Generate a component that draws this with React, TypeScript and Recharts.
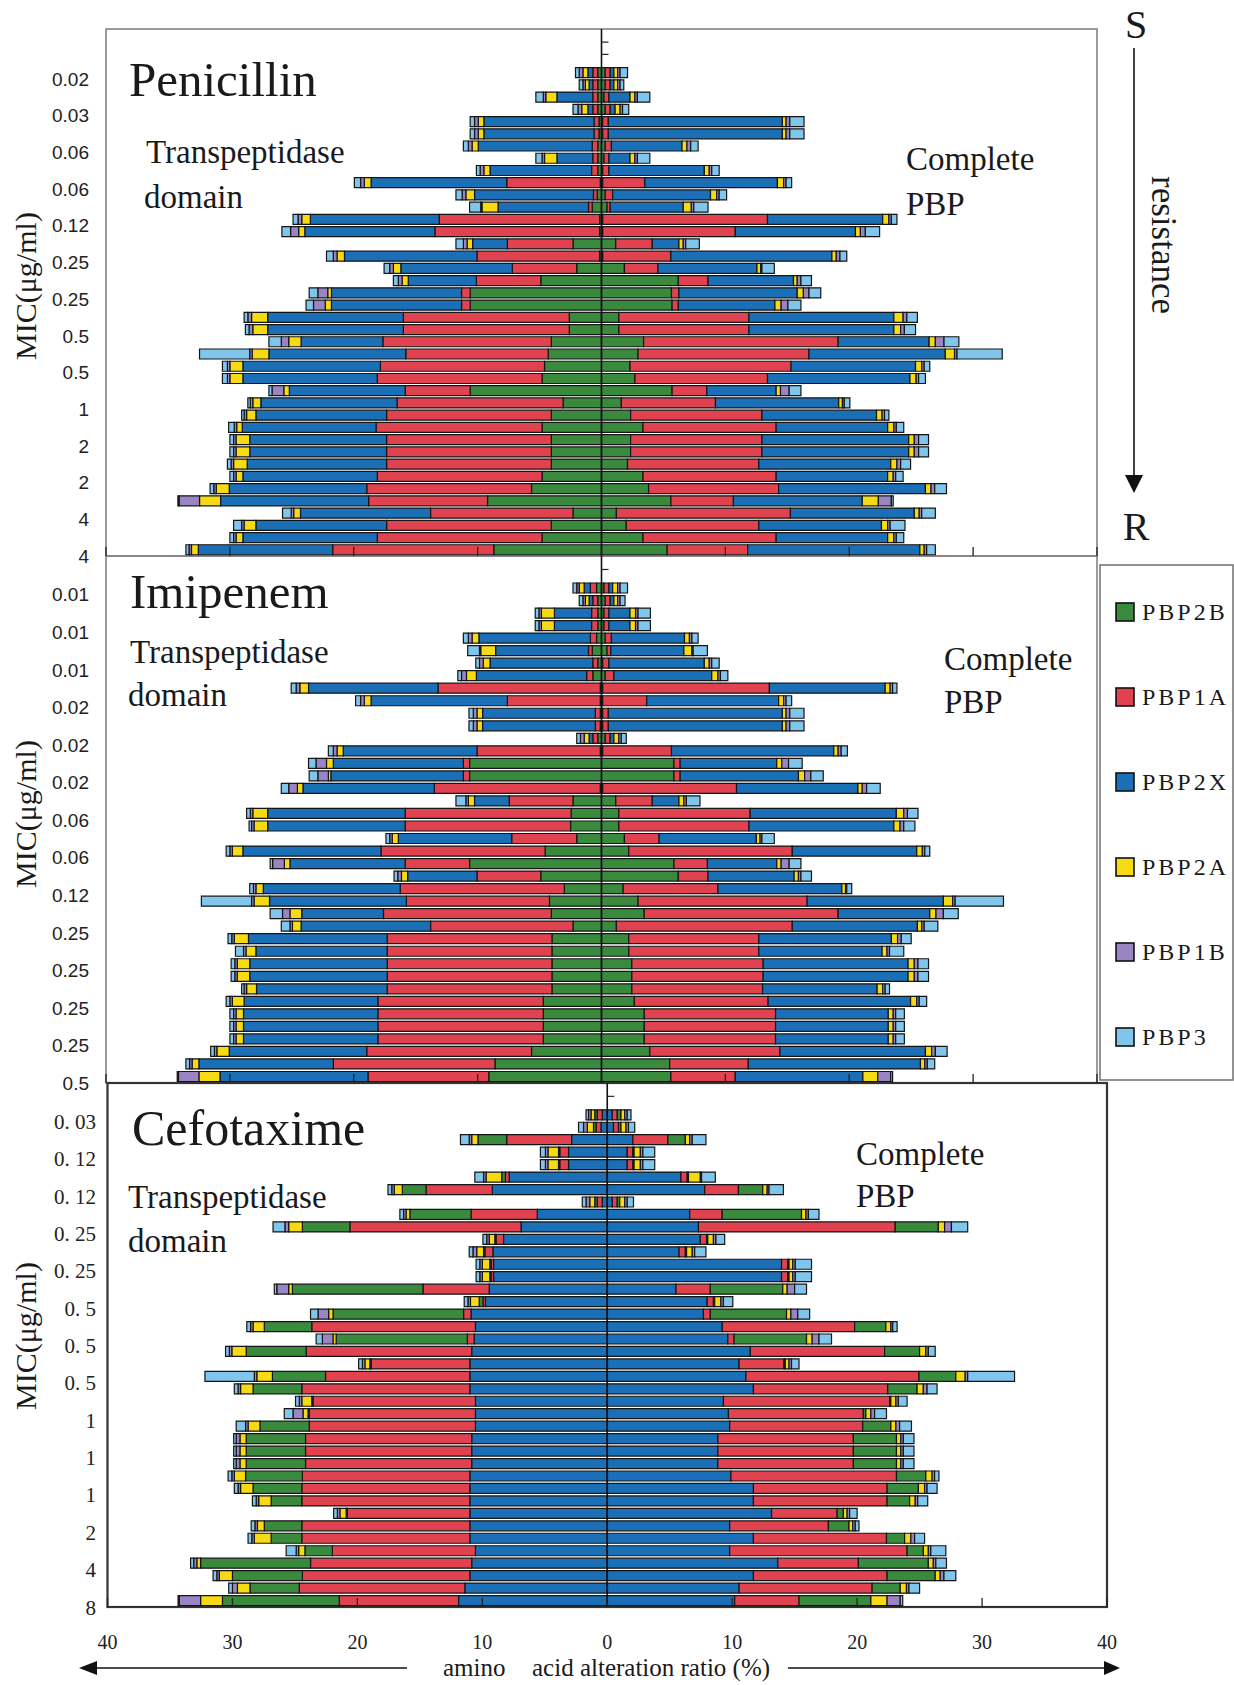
import React from 'react';
import { BarChart, Bar, XAxis, YAxis, ReferenceLine } from 'recharts';

// ---------- labels ----------
const proteins = ['PBP2B', 'PBP1A', 'PBP2X', 'PBP2A', 'PBP1B', 'PBP3'];
const penMIC = ['0.02', '0.03', '0.06', '0.06', '0.12', '0.25', '0.25', '0.5', '0.5', '1', '2', '2', '4', '4'];
const imiMIC = ['0.01', '0.01', '0.01', '0.02', '0.02', '0.02', '0.06', '0.06', '0.12', '0.25', '0.25', '0.25', '0.25', '0.5'];
const cefMIC = ['0. 03', '0. 12', '0. 12', '0. 25', '0. 25', '0. 5', '0. 5', '0. 5', '1', '1', '1', '2', '4', '8'];
const xTicks = [-40, -30, -20, -10, 0, 10, 20, 30, 40];

// ---------- Penicillin: transpeptidase domain (left) ----------
const penTP_2B = [0.3, 0.3, 0.3, 0.3, 0.2, 0.2, 0.3, 0.3, 0.3, 0.1,
  0.35, 0.75, 0.15, 0.15, 2.3, 0.15, 2.0, 4.9, 10.6, 10.6,
  2.6, 2.6, 4.05, 4.3, 4.6, 4.8, 10.6, 3.1, 4.05, 4.8,
  4.05, 4.05, 4.05, 4.8, 5.65, 9.2, 2.3, 4.05, 4.8, 8.7];
const penTP_1A = [0.4, 0.4, 0.4, 0.4, 0.4, 0.4, 0.45, 0.4, 0.5, 7.55,
  0.3, 0.3, 12.95, 13.3, 5.3, 9.9, 5.2, 5.2, 0.7, 0.7,
  13.4, 13.4, 13.6, 11.5, 13.25, 13.3, 5.25, 13.4, 13.3, 13.4,
  13.3, 13.3, 13.3, 13.3, 13.3, 9.6, 11.5, 13.3, 13.3, 13.0];
const penTP_2X = [0.4, 0.3, 2.9, 0.4, 8.9, 8.9, 9.2, 2.9, 8.2, 10.95,
  9.6, 7.3, 10.4, 10.5, 2.8, 10.7, 9.0, 5.5, 10.5, 10.5,
  10.95, 10.95, 6.6, 11.05, 11.1, 10.85, 9.35, 11.0, 10.55, 10.8,
  11.05, 11.05, 11.25, 10.85, 11.1, 11.95, 10.5, 10.55, 10.85, 10.85];
const penTP_2A = [0.4, 0.3, 0.9, 0.5, 0.45, 0.45, 0.5, 1.0, 0.5, 0.55,
  0.7, 1.3, 0.7, 0.5, 0.45, 0.6, 0.6, 0.5, 0.3, 0.5,
  1.3, 1.2, 1.0, 1.35, 1.05, 1.05, 0.45, 0.65, 0.75, 0.45,
  1.1, 1.1, 1.1, 0.55, 1.05, 1.7, 0.55, 0.95, 0.55, 0.55];
const penTP_1B = [0.3, 0.2, 0.2, 0.3, 0.3, 0.3, 0.3, 0.2, 0.3, 0.3,
  0.3, 0.1, 0.3, 0.65, 0.3, 0.3, 0.3, 0.3, 0.8, 0.95,
  0.3, 0.3, 0.6, 0.2, 0.2, 0.2, 0.95, 0.2, 0.2, 0.2,
  0.2, 0.2, 0.2, 0.2, 0.2, 1.65, 0.2, 0.2, 0.2, 0.2];
const penTP_3 = [0.3, 0.3, 0.6, 0.4, 0.35, 0.35, 0.4, 0.5, 0.3, 0.5,
  0.5, 0.9, 0.4, 0.7, 0.6, 0.55, 0.45, 0.4, 0.7, 0.6,
  0.3, 0.3, 1.0, 4.05, 0.4, 0.4, 0.25, 0.2, 0.2, 0.45,
  0.3, 0.3, 0.3, 0.3, 0.3, 0.1, 0.7, 0.65, 0.3, 0.25];

// ---------- Penicillin: complete PBP (right) ----------
const penCP_2B = [0.3, 0.3, 0.2, 0.3, 0.1, 0.1, 0.3, 0.2, 0.1, 0.1,
  0.3, 0.45, 0.1, 0.1, 1.15, 0.1, 1.85, 6.2, 5.65, 5.7,
  1.4, 1.4, 3.4, 2.95, 2.3, 2.7, 5.7, 1.6, 2.35, 3.35,
  2.35, 2.35, 2.1, 3.35, 3.8, 5.6, 1.2, 2.0, 3.35, 5.3];
const penCP_1A = [0.4, 0.4, 0.4, 0.4, 0.45, 0.45, 0.5, 0.4, 0.5, 3.4,
  0.6, 0.25, 13.3, 10.7, 2.95, 5.5, 2.7, 2.4, 0.6, 0.5,
  10.5, 10.5, 15.7, 13.8, 13.0, 10.7, 2.8, 7.6, 10.6, 10.75,
  10.6, 10.6, 10.6, 10.75, 10.5, 5.05, 14.05, 10.7, 10.75, 6.5];
const penCP_2X = [0.3, 0.3, 1.7, 0.4, 14.05, 14.05, 5.7, 1.7, 7.7, 10.7,
  7.9, 5.9, 9.3, 9.7, 2.15, 13.0, 8.0, 6.9, 9.55, 7.8,
  11.7, 11.7, 7.35, 11.0, 10.05, 11.5, 5.6, 9.95, 9.25, 9.0,
  11.85, 11.85, 10.65, 9.0, 11.85, 10.4, 10.0, 9.9, 9.0, 13.9];
const penCP_2A = [0.3, 0.3, 0.4, 0.4, 0.3, 0.3, 0.4, 0.4, 0.4, 0.5,
  0.5, 0.65, 0.5, 0.4, 0.35, 0.35, 0.3, 0.3, 0.5, 0.5,
  0.75, 0.55, 0.5, 0.75, 0.5, 0.5, 0.35, 0.3, 0.45, 0.5,
  0.45, 0.45, 0.5, 0.45, 0.45, 1.3, 0.4, 0.5, 0.5, 0.35];
const penCP_1B = [0.2, 0.2, 0.2, 0.2, 0.3, 0.3, 0.3, 0.2, 0.2, 0.2,
  0.2, 0.2, 0.2, 0.4, 0.2, 0.3, 0.1, 0.3, 0.45, 0.55,
  0.3, 0.3, 0.7, 0.2, 0.2, 0.2, 0.7, 0.15, 0.2, 0.2,
  0.35, 0.35, 0.3, 0.2, 0.3, 1.05, 0.2, 0.2, 0.2, 0.2];
const penCP_3 = [0.6, 0.3, 1.0, 0.5, 1.15, 1.15, 0.6, 1.0, 0.6, 0.45,
  0.6, 1.15, 0.45, 1.15, 1.1, 0.55, 1.0, 0.85, 0.95, 1.05,
  0.85, 0.9, 1.2, 3.65, 0.45, 0.55, 0.95, 0.45, 0.35, 0.6,
  0.8, 0.8, 0.8, 0.6, 0.95, 0.15, 1.1, 1.2, 0.6, 0.7];

// ---------- Imipenem: transpeptidase domain (left) ----------
const imiTP_2B = [0.4, 0.3, 0.3, 0.3, 0.4, 0.75, 0.3, 0.7, 0.1, 0.1,
  0.1, 0.1, 0.3, 0.1, 10.65, 10.65, 0.1, 2.3, 2.45, 2.5,
  2.0, 4.55, 10.65, 4.9, 3.0, 4.2, 4.05, 2.3, 4.0, 4.0,
  4.0, 4.0, 4.0, 4.7, 4.7, 4.7, 4.7, 5.65, 8.6, 9.1];
const imiTP_1A = [0.5, 0.4, 0.5, 0.5, 0.5, 0.3, 0.4, 0.5, 13.1, 7.5,
  0.4, 0.4, 0.4, 9.95, 0.5, 0.5, 13.4, 5.15, 13.4, 13.35,
  5.25, 13.25, 5.2, 5.15, 13.25, 11.55, 13.55, 11.5, 13.3, 13.3,
  13.3, 13.3, 13.3, 13.35, 13.35, 13.35, 13.35, 13.3, 13.05, 9.75];
const imiTP_2X = [0.5, 0.3, 3.0, 3.0, 9.0, 7.5, 8.3, 8.9, 10.45, 11.0,
  9.1, 9.1, 0.3, 10.8, 10.5, 10.7, 10.6, 2.8, 11.1, 11.1,
  9.15, 11.15, 9.3, 5.6, 11.05, 11.05, 6.6, 10.45, 11.2, 10.6,
  11.1, 11.1, 10.55, 10.8, 10.85, 10.85, 10.85, 11.1, 10.85, 11.95];
const imiTP_2A = [0.4, 0.3, 1.05, 1.05, 0.55, 1.2, 0.55, 0.8, 0.7, 0.55,
  0.45, 0.45, 0.4, 0.5, 0.55, 0.2, 0.45, 0.5, 1.2, 1.1,
  0.5, 0.85, 0.45, 0.5, 0.6, 1.25, 0.95, 0.7, 1.15, 0.8,
  1.0, 1.0, 0.8, 0.95, 0.6, 0.6, 0.6, 1.0, 0.55, 1.7];
const imiTP_1B = [0.2, 0.2, 0.2, 0.2, 0.3, 0.1, 0.3, 0.4, 0.3, 0.3,
  0.3, 0.3, 0.3, 0.3, 0.85, 0.85, 0.7, 0.2, 0.2, 0.2,
  0.2, 0.2, 0.95, 0.3, 0.2, 0.2, 0.6, 0.2, 0.2, 0.2,
  0.2, 0.2, 0.2, 0.2, 0.2, 0.2, 0.2, 0.2, 0.2, 1.65];
const imiTP_3 = [0.3, 0.3, 0.3, 0.3, 0.4, 0.95, 0.3, 0.3, 0.4, 0.4,
  0.35, 0.35, 0.3, 0.4, 0.6, 0.7, 0.6, 0.8, 0.3, 0.2,
  0.3, 0.3, 0.2, 0.3, 0.3, 4.05, 1.0, 0.7, 0.3, 0.65,
  0.3, 0.3, 0.2, 0.3, 0.3, 0.3, 0.3, 0.3, 0.3, 0.1];

// ---------- Imipenem: complete PBP (right) ----------
const imiCP_2B = [0.2, 0.3, 0.2, 0.2, 0.3, 0.45, 0.1, 0.3, 0.1, 0.1,
  0.1, 0.1, 0.3, 0.1, 5.85, 5.85, 0.1, 1.15, 1.4, 1.4,
  1.85, 2.2, 5.85, 6.2, 1.75, 2.95, 3.45, 1.2, 2.2, 2.2,
  2.45, 2.45, 2.45, 2.65, 3.45, 3.45, 3.45, 3.9, 5.5, 5.6];
const imiCP_1A = [0.4, 0.4, 0.4, 0.4, 0.5, 0.3, 0.5, 0.7, 13.45, 3.55,
  0.45, 0.45, 0.4, 5.55, 0.5, 0.5, 10.8, 2.95, 10.6, 10.5,
  2.8, 13.2, 2.7, 2.4, 7.65, 13.65, 15.65, 14.2, 10.5, 10.5,
  10.6, 10.6, 10.55, 10.8, 10.6, 10.6, 10.6, 10.5, 6.35, 5.2];
const imiCP_2X = [0.3, 0.3, 1.7, 1.7, 5.9, 5.9, 7.7, 7.9, 9.35, 10.65,
  14.05, 14.05, 0.3, 13.1, 7.8, 9.55, 9.8, 2.15, 11.8, 11.7,
  7.85, 10.05, 5.6, 6.95, 10.0, 11.0, 7.4, 10.1, 10.7, 9.95,
  11.7, 11.7, 9.25, 11.5, 9.1, 9.1, 9.1, 11.75, 13.9, 10.3];
const imiCP_2A = [0.4, 0.3, 0.45, 0.45, 0.4, 0.65, 0.4, 0.5, 0.4, 0.4,
  0.3, 0.3, 0.4, 0.35, 0.4, 0.5, 0.35, 0.4, 0.6, 0.5,
  0.3, 0.45, 0.35, 0.35, 0.3, 0.75, 0.5, 0.35, 0.5, 0.4,
  0.5, 0.5, 0.45, 0.5, 0.4, 0.4, 0.4, 0.5, 0.35, 1.2];
const imiCP_1B = [0.2, 0.2, 0.2, 0.2, 0.2, 0.1, 0.2, 0.2, 0.2, 0.2,
  0.3, 0.3, 0.2, 0.25, 0.55, 0.5, 0.35, 0.2, 0.3, 0.3,
  0.15, 0.2, 0.65, 0.2, 0.1, 0.2, 0.6, 0.2, 0.3, 0.2,
  0.3, 0.3, 0.2, 0.2, 0.2, 0.2, 0.2, 0.3, 0.2, 1.05];
const imiCP_3 = [0.6, 0.4, 1.0, 1.0, 0.5, 1.15, 0.6, 0.6, 0.35, 0.45,
  1.15, 1.15, 0.4, 0.5, 1.1, 1.0, 1.1, 1.1, 0.85, 0.9,
  1.0, 0.4, 0.95, 0.85, 0.4, 3.9, 1.2, 1.1, 0.8, 1.15,
  0.85, 0.85, 0.35, 0.6, 0.7, 0.7, 0.7, 0.95, 0.6, 0.15];

// ---------- Cefotaxime: transpeptidase domain (left) ----------
const cefTP_2X = [0.4, 0.5, 2.85, 3.1, 3.1, 7.85, 9.2, 0.4, 5.6, 6.9,
  8.3, 9.15, 9.1, 9.1, 9.45, 9.75, 10.9, 10.55, 10.65, 10.85,
  11.0, 11.0, 11.0, 10.55, 10.55, 10.55, 10.85, 10.85, 10.85, 11.0,
  11.0, 11.0, 11.0, 11.0, 11.0, 10.55, 10.85, 11.0, 11.4, 11.9];
const cefTP_1A = [0.4, 0.4, 5.2, 0.7, 0.7, 0.3, 5.3, 0.4, 5.3, 13.7,
  0.6, 0.65, 0.2, 0.2, 5.3, 0.2, 0.6, 13.1, 0.55, 13.25,
  7.9, 11.55, 13.45, 13.0, 13.3, 13.3, 13.3, 13.3, 13.3, 13.4,
  13.45, 13.45, 9.8, 13.45, 13.45, 11.45, 12.9, 13.4, 13.25, 9.55];
const cefTP_2B = [0.2, 0.2, 2.3, 0.1, 0.1, 0.3, 1.9, 0.2, 4.9, 3.8,
  0.1, 0.1, 0.1, 0.1, 10.45, 0.3, 10.45, 3.8, 10.5, 4.8,
  0.1, 4.25, 3.9, 0.1, 0.1, 3.95, 4.75, 4.75, 4.75, 4.55,
  3.9, 2.45, 0.1, 3.0, 2.45, 2.2, 8.8, 5.6, 3.95, 9.35];
const cefTP_2A = [0.3, 0.5, 0.5, 0.85, 0.85, 1.25, 0.65, 0.4, 0.3, 1.1,
  0.45, 0.55, 0.6, 0.6, 0.3, 0.7, 0.35, 0.9, 0.25, 1.15,
  0.4, 1.25, 1.0, 0.8, 0.4, 0.95, 0.5, 0.5, 0.5, 0.9,
  1.0, 1.0, 0.5, 0.55, 1.35, 0.5, 0.3, 1.05, 1.0, 1.75];
const cefTP_1B = [0.2, 0.3, 0.2, 0.2, 0.2, 0.2, 0.2, 0.3, 0.2, 0.3,
  0.2, 0.3, 0.2, 0.2, 0.95, 0.2, 0.85, 0.2, 0.85, 0.2,
  0.2, 0.2, 0.2, 0.2, 0.8, 0.2, 0.3, 0.3, 0.3, 0.2,
  0.2, 0.2, 0.2, 0.2, 0.2, 0.2, 0.25, 0.2, 0.4, 1.7];
const cefTP_3 = [0.2, 0.4, 0.7, 0.4, 0.4, 0.7, 0.3, 0.3, 0.3, 0.95,
  0.3, 0.3, 0.3, 0.3, 0.2, 0.3, 0.6, 0.3, 0.5, 0.3,
  0.3, 3.95, 0.3, 0.3, 0.7, 0.75, 0.2, 0.2, 0.2, 0.3,
  0.3, 0.3, 0.3, 0.3, 0.3, 0.8, 0.25, 0.3, 0.3, 0.1];

// ---------- Cefotaxime: complete PBP (right) ----------
const cefCP_2X = [0.4, 0.5, 2.05, 1.6, 1.6, 5.9, 7.8, 0.4, 6.6, 7.3,
  7.45, 5.75, 13.95, 13.95, 5.5, 8.0, 7.7, 9.2, 9.65, 11.45,
  10.55, 11.1, 11.7, 9.3, 9.7, 9.8, 8.85, 8.85, 8.85, 9.9,
  11.7, 11.7, 13.15, 9.8, 11.7, 9.8, 13.65, 11.7, 10.55, 10.2];
const cefCP_1A = [0.4, 0.4, 2.8, 0.45, 0.45, 0.5, 2.7, 0.4, 2.6, 15.75,
  0.5, 0.5, 0.5, 0.5, 2.75, 0.5, 0.55, 10.6, 0.5, 10.75,
  3.6, 13.85, 10.75, 13.3, 10.8, 10.65, 10.85, 10.85, 10.85, 13.25,
  10.7, 10.7, 5.25, 7.9, 10.65, 14.2, 6.45, 10.7, 10.65, 5.15];
const cefCP_2B = [0.3, 0.2, 1.4, 0.1, 0.1, 0.1, 1.95, 0.2, 6.35, 3.45,
  0.1, 0.1, 0.1, 0.1, 5.8, 0.1, 6.1, 2.5, 5.8, 2.8,
  0.1, 2.95, 2.35, 0.1, 0.2, 2.25, 3.45, 3.45, 3.45, 2.35,
  2.5, 1.8, 0.5, 1.65, 1.45, 1.3, 5.6, 3.85, 2.25, 5.75];
const cefCP_2A = [0.3, 0.4, 0.35, 0.5, 0.5, 0.95, 0.35, 0.4, 0.35, 0.5,
  0.45, 0.45, 0.3, 0.3, 0.35, 0.5, 0.35, 0.4, 0.45, 0.5,
  0.3, 0.75, 0.5, 0.4, 0.4, 0.4, 0.35, 0.35, 0.35, 0.5,
  0.5, 0.45, 0.3, 0.3, 0.5, 0.4, 0.4, 0.4, 0.5, 1.3];
const cefCP_1B = [0.2, 0.2, 0.2, 0.2, 0.2, 0.1, 0.15, 0.2, 0.2, 0.55,
  0.2, 0.2, 0.2, 0.2, 0.6, 0.2, 0.55, 0.15, 0.55, 0.2,
  0.2, 0.2, 0.3, 0.2, 0.3, 0.3, 0.2, 0.2, 0.2, 0.2,
  0.2, 0.2, 0.2, 0.2, 0.3, 0.2, 0.2, 0.3, 0.2, 1.05];
const cefCP_3 = [0.3, 0.5, 1.1, 0.95, 0.95, 1.1, 1.15, 0.5, 0.85, 1.3,
  0.7, 0.9, 1.3, 1.3, 0.95, 0.75, 0.95, 0.35, 1.0, 0.55,
  0.6, 3.75, 0.8, 0.7, 0.95, 0.95, 0.85, 0.85, 0.85, 0.35,
  0.8, 0.8, 0.6, 0.3, 0.8, 1.2, 0.85, 0.95, 0.85, 0.2];

// ---------- styling ----------
const COLORS: Record<string, string> = {
  PBP2B: '#3a8a3e',
  PBP1A: '#e0434f',
  PBP2X: '#1b6fb6',
  PBP2A: '#f6da14',
  PBP1B: '#9a84c4',
  PBP3: '#80c6ec',
};
const W = 1234;
const H = 1685;
const SERIF = '"Liberation Serif", "Times New Roman", serif';
const SANS = '"Liberation Sans", Arial, sans-serif';

type Series = Record<string, number[]>;

function buildTable(tp: Series, cp: Series, mic: string[]) {
  return tp.PBP2B.map((_, i) => {
    const row: Record<string, any> = { row: i, mic: i % 3 === 0 ? mic[i / 3] : '' };
    proteins.forEach((k) => {
      row['L_' + k] = -tp[k][i];
      row['R_' + k] = cp[k][i];
    });
    return row;
  });
}

const penData = buildTable(
  { PBP2B: penTP_2B, PBP1A: penTP_1A, PBP2X: penTP_2X, PBP2A: penTP_2A, PBP1B: penTP_1B, PBP3: penTP_3 },
  { PBP2B: penCP_2B, PBP1A: penCP_1A, PBP2X: penCP_2X, PBP2A: penCP_2A, PBP1B: penCP_1B, PBP3: penCP_3 },
  penMIC,
);
const imiData = buildTable(
  { PBP2B: imiTP_2B, PBP1A: imiTP_1A, PBP2X: imiTP_2X, PBP2A: imiTP_2A, PBP1B: imiTP_1B, PBP3: imiTP_3 },
  { PBP2B: imiCP_2B, PBP1A: imiCP_1A, PBP2X: imiCP_2X, PBP2A: imiCP_2A, PBP1B: imiCP_1B, PBP3: imiCP_3 },
  imiMIC,
);
const cefData = buildTable(
  { PBP2B: cefTP_2B, PBP1A: cefTP_1A, PBP2X: cefTP_2X, PBP2A: cefTP_2A, PBP1B: cefTP_1B, PBP3: cefTP_3 },
  { PBP2B: cefCP_2B, PBP1A: cefCP_1A, PBP2X: cefCP_2X, PBP2A: cefCP_2A, PBP1B: cefCP_1B, PBP3: cefCP_3 },
  cefMIC,
);

const orderPI = ['PBP2B', 'PBP1A', 'PBP2X', 'PBP2A', 'PBP1B', 'PBP3'];
const orderC = ['PBP2X', 'PBP1A', 'PBP2B', 'PBP2A', 'PBP1B', 'PBP3'];

type Box = { L: number; T: number; R: number; B: number };

function Panel(props: {
  data: any[];
  order: string[];
  box: Box;
  padTop: number;
  micFamily: string;
  micSize: number;
  micDx: number;
  showX: boolean;
}) {
  const { data, order, box, padTop, micFamily, micSize, micDx, showX } = props;
  const { L, T, R, B } = box;
  const YW = 90;
  const XH = 50;
  const band = (B - T - padTop) / data.length;
  const zeroX = (L + R) / 2;

  const renderYTick = (p: any) => {
    const { x, y, payload, index } = p;
    const rec = data[payload.value];
    const label = rec ? rec.mic : '';
    const extra: any[] = [];
    if (index === 0) {
      for (let k = 1; k < 10; k++) {
        const yy = y - band / 2 - k * band;
        if (yy < T + 2) break;
        extra.push(
          <line key={'e' + k} x1={zeroX} x2={zeroX + 7} y1={yy} y2={yy} stroke="#222" strokeWidth={1.2} />,
        );
      }
    }
    return (
      <g>
        {extra}
        {label ? (
          <text x={x - micDx} y={y + band / 2} dy="0.36em" textAnchor="end" fontFamily={micFamily} fontSize={micSize} fill="#222">
            {label}
          </text>
        ) : null}
      </g>
    );
  };

  const renderXTick = (p: any) => {
    const { x, y, payload } = p;
    return (
      <g>
        <line x1={x} x2={x} y1={y} y2={y - 9} stroke="#222" strokeWidth={1.3} />
        {showX ? (
          <text x={x} y={y + 35} dy="0.36em" textAnchor="middle" fontFamily={SERIF} fontSize={20} fill="#222">
            {String(Math.abs(payload.value))}
          </text>
        ) : null}
      </g>
    );
  };

  return (
    <div style={{ position: 'absolute', left: 0, top: 0 }}>
      <BarChart
        width={W}
        height={H}
        data={data}
        layout="vertical"
        stackOffset="sign"
        barSize={10}
        margin={{ left: L - YW, top: T, right: W - R, bottom: H - B - XH }}
      >
        <XAxis
          type="number"
          domain={[-40, 40]}
          ticks={xTicks}
          height={XH}
          axisLine={false}
          tickLine={false}
          tickSize={0}
          tickMargin={0}
          tick={renderXTick}
          interval={0}
        />
        <YAxis
          type="category"
          dataKey="row"
          width={YW}
          axisLine={false}
          tickLine={false}
          tickSize={0}
          tickMargin={0}
          interval={0}
          padding={{ top: padTop, bottom: 0 }}
          tick={renderYTick}
        />
        {order.map((k) => (
          <Bar key={'L' + k} dataKey={'L_' + k} stackId="s" fill={COLORS[k]} stroke="#151515" strokeWidth={1.2} isAnimationActive={false} />
        ))}
        {order.map((k) => (
          <Bar key={'R' + k} dataKey={'R_' + k} stackId="s" fill={COLORS[k]} stroke="#151515" strokeWidth={1.2} isAnimationActive={false} />
        ))}
        <ReferenceLine x={0} stroke="#111" strokeWidth={1.6} />
      </BarChart>
    </div>
  );
}

const penBox: Box = { L: 106, T: 29, R: 1097, B: 556 };
const imiBox: Box = { L: 106, T: 556, R: 1097, B: 1083 };
const cefBox: Box = { L: 107.5, T: 1083, R: 1107, B: 1607 };

export default function App() {
  const legendY = [612, 697, 782, 867, 952, 1037];
  return (
    <div style={{ position: 'absolute', left: 0, top: 0, width: W, height: H, background: '#fff', overflow: 'hidden' }}>
      <svg style={{ position: 'absolute', left: 0, top: 0 }} width={W} height={H}>
        {/* panel frames */}
        <rect x={penBox.L} y={penBox.T} width={penBox.R - penBox.L} height={penBox.B - penBox.T} fill="none" stroke="#8a8080" strokeWidth={1.6} />
        <rect x={imiBox.L} y={imiBox.T} width={imiBox.R - imiBox.L} height={imiBox.B - imiBox.T} fill="none" stroke="#8a8080" strokeWidth={1.6} />
        <rect x={cefBox.L} y={cefBox.T} width={cefBox.R - cefBox.L} height={cefBox.B - cefBox.T} fill="none" stroke="#333" strokeWidth={2.2} />

        {/* titles */}
        <g fontFamily={SERIF} fill="#1a1a1a">
          <text x={129} y={96} fontSize={49}>Penicillin</text>
          <text x={146} y={163} fontSize={33}>Transpeptidase</text>
          <text x={144} y={208} fontSize={33}>domain</text>
          <text x={906} y={170} fontSize={33}>Complete</text>
          <text x={906} y={215} fontSize={33}>PBP</text>

          <text x={130} y={608} fontSize={49}>Imipenem</text>
          <text x={130} y={663} fontSize={33}>Transpeptidase</text>
          <text x={128} y={706} fontSize={33}>domain</text>
          <text x={944} y={670} fontSize={33}>Complete</text>
          <text x={944} y={713} fontSize={33}>PBP</text>

          <text x={132} y={1145} fontSize={50}>Cefotaxime</text>
          <text x={128} y={1208} fontSize={33}>Transpeptidase</text>
          <text x={128} y={1252} fontSize={33}>domain</text>
          <text x={856} y={1165} fontSize={33}>Complete</text>
          <text x={856} y={1207} fontSize={33}>PBP</text>

          {/* MIC axis titles */}
          <text transform="translate(36,286) rotate(-90)" textAnchor="middle" fontSize={30}>MIC(μg/ml)</text>
          <text transform="translate(36,814) rotate(-90)" textAnchor="middle" fontSize={30}>MIC(μg/ml)</text>
          <text transform="translate(36,1336) rotate(-90)" textAnchor="middle" fontSize={30}>MIC(μg/ml)</text>

          {/* resistance arrow */}
          <text x={1136} y={38} fontSize={40} textAnchor="middle">S</text>
          <text x={1136} y={540} fontSize={40} textAnchor="middle">R</text>
          <text transform="translate(1152,245) rotate(90)" textAnchor="middle" fontSize={35}>resistance</text>

          {/* bottom axis title */}
          <text x={443} y={1676} fontSize={25}>amino</text>
          <text x={532} y={1676} fontSize={25}>acid alteration ratio (%)</text>
        </g>
        <line x1={1134} x2={1134} y1={48} y2={480} stroke="#111" strokeWidth={1.6} />
        <polygon points="1125,475 1143,475 1134,493" fill="#111" />
        <line x1={92} x2={407} y1={1668} y2={1668} stroke="#111" strokeWidth={1.6} />
        <polygon points="79,1668 97,1661 97,1675" fill="#111" />
        <line x1={788} x2={1108} y1={1668} y2={1668} stroke="#111" strokeWidth={1.6} />
        <polygon points="1120,1668 1104,1661 1104,1675" fill="#111" />

        {/* legend */}
        <rect x={1100} y={565} width={133} height={515} fill="none" stroke="#777" strokeWidth={1.6} />
        {proteins.map((p, i) => (
          <g key={p}>
            <rect x={1116} y={legendY[i] - 9} width={18} height={18} fill={COLORS[p]} stroke="#111" strokeWidth={1.6} />
            <text x={1142} y={legendY[i] + 8} fontFamily={SERIF} fontSize={24} letterSpacing={3} fill="#1a1a1a">{p}</text>
          </g>
        ))}
      </svg>

      <Panel data={penData} order={orderPI} box={penBox} padTop={37.6} micFamily={SANS} micSize={19} micDx={17} showX={false} />
      <Panel data={imiData} order={orderPI} box={imiBox} padTop={26} micFamily={SANS} micSize={19} micDx={17} showX={false} />
      <Panel data={cefData} order={orderC} box={cefBox} padTop={25.8} micFamily={SERIF} micSize={21} micDx={11.5} showX={true} />
    </div>
  );
}
